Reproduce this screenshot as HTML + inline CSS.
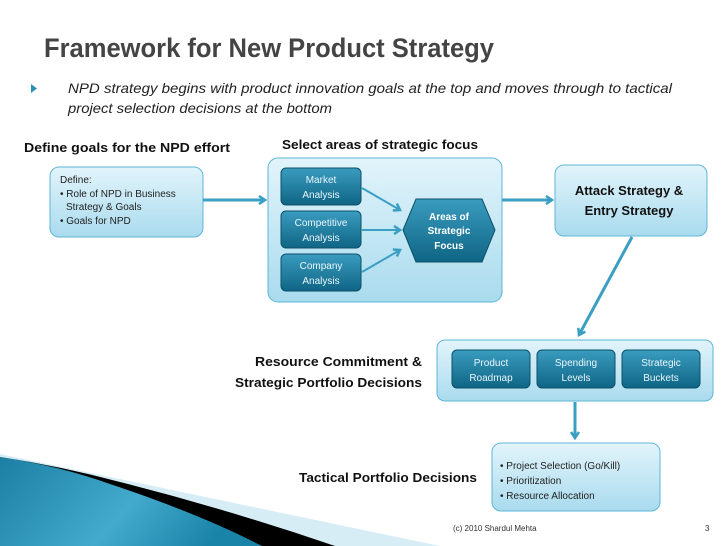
<!DOCTYPE html>
<html><head><meta charset="utf-8"><style>
html,body{margin:0;padding:0;background:#fff;}
svg{display:block;font-family:"Liberation Sans",sans-serif;}
</style></head><body>
<svg width="728" height="546" viewBox="0 0 728 546" xmlns="http://www.w3.org/2000/svg">
<defs>
<linearGradient id="lb" x1="0" y1="0" x2="0" y2="1"><stop offset="0" stop-color="#e2f4fb"/><stop offset="1" stop-color="#a9dbee"/></linearGradient>
<linearGradient id="db" x1="0" y1="0" x2="0" y2="1"><stop offset="0" stop-color="#3a9cbf"/><stop offset="1" stop-color="#0f6585"/></linearGradient>
<linearGradient id="sw" x1="0" y1="0" x2="1" y2="0.3"><stop offset="0" stop-color="#1b7fa3"/><stop offset="0.6" stop-color="#43aacd"/><stop offset="1" stop-color="#1a84a8"/></linearGradient>
<marker id="ah" markerWidth="10" markerHeight="10" refX="7" refY="5" orient="auto" markerUnits="userSpaceOnUse"><path d="M1,1 L7,5 L1,9" fill="none" stroke="#3a9fc2" stroke-width="2.5"/></marker>
</defs>

<!-- swoosh -->
<path d="M0,454 L440,546 L0,546 Z" fill="#d7edf5"/>
<path d="M0,457 Q60,466 120,482 Q230,510 335,546 L0,546 Z" fill="#000"/>
<path d="M0,457 Q60,466 110,484 Q200,514 262,546 L0,546 Z" fill="url(#sw)"/>

<text x="44" y="57" font-size="27" font-weight="bold" fill="#444" textLength="450" lengthAdjust="spacingAndGlyphs">Framework for New Product Strategy</text>
<path d="M31,84 L37,88.5 L31,93 Z" fill="#2d8fb3"/>
<text font-size="14" font-style="italic" fill="#222"><tspan x="68" y="93" textLength="604" lengthAdjust="spacingAndGlyphs">NPD strategy begins with product innovation goals at the top and moves through to tactical</tspan><tspan x="68" y="113" textLength="264" lengthAdjust="spacingAndGlyphs">project selection decisions at the bottom</tspan></text>

<g font-weight="bold" fill="#111" font-size="13">
<text x="24" y="152" textLength="206" lengthAdjust="spacingAndGlyphs">Define goals for the NPD effort</text>
<text x="282" y="149" textLength="196" lengthAdjust="spacingAndGlyphs">Select areas of strategic focus</text>
<text x="255" y="366" textLength="167" lengthAdjust="spacingAndGlyphs">Resource Commitment &amp;</text>
<text x="235" y="387" textLength="187" lengthAdjust="spacingAndGlyphs">Strategic Portfolio Decisions</text>
<text x="299" y="482" textLength="178" lengthAdjust="spacingAndGlyphs">Tactical Portfolio Decisions</text>
</g>

<!-- define box -->
<rect x="50" y="167" width="153" height="70" rx="9" fill="url(#lb)" stroke="#5eb6d6"/>
<text font-size="10" fill="#222"><tspan x="60" y="183">Define:</tspan><tspan x="60" y="197">• Role of NPD in Business</tspan><tspan x="66" y="210">Strategy &amp; Goals</tspan><tspan x="60" y="224">• Goals for NPD</tspan></text>

<!-- container -->
<rect x="268" y="158" width="234" height="144" rx="10" fill="url(#lb)" stroke="#5eb6d6"/>
<g fill="url(#db)" stroke="#0c5068" stroke-width="1">
<rect x="281" y="168" width="80" height="37" rx="5"/>
<rect x="281" y="211" width="80" height="37" rx="5"/>
<rect x="281" y="254" width="80" height="37" rx="5"/>
<path d="M416,199 L482,199 L495,230 L482,262 L416,262 L403,230 Z"/>
</g>
<g font-size="10" fill="#e8f6fb" text-anchor="middle">
<text x="321" y="183">Market</text><text x="321" y="198">Analysis</text>
<text x="321" y="226">Competitive</text><text x="321" y="241">Analysis</text>
<text x="321" y="269">Company</text><text x="321" y="284">Analysis</text>
</g>
<g font-size="10" font-weight="bold" fill="#fff" text-anchor="middle">
<text x="449" y="220">Areas of</text><text x="449" y="234">Strategic</text><text x="449" y="249">Focus</text>
</g>
<g stroke="#3a9fc2" stroke-width="2" marker-end="url(#ah)">
<line x1="362" y1="188" x2="400" y2="210"/>
<line x1="362" y1="230" x2="400" y2="230"/>
<line x1="362" y1="272" x2="400" y2="250"/>
</g>

<!-- attack -->
<rect x="555" y="165" width="152" height="71" rx="9" fill="url(#lb)" stroke="#5eb6d6"/>
<g font-size="13" font-weight="bold" fill="#111" text-anchor="middle"><text x="629" y="195">Attack Strategy &amp;</text><text x="629" y="215">Entry Strategy</text></g>

<!-- arrows -->
<g stroke="#3a9fc2" stroke-width="3" marker-end="url(#ah)">
<line x1="203" y1="200" x2="265" y2="200"/>
<line x1="502" y1="200" x2="552" y2="200"/>
<line x1="632" y1="237" x2="579" y2="335"/>
<line x1="575" y1="402" x2="575" y2="438"/>
</g>

<!-- resource -->
<rect x="437" y="340" width="276" height="61" rx="8" fill="url(#lb)" stroke="#5eb6d6"/>
<g fill="url(#db)" stroke="#0c5068">
<rect x="452" y="350" width="78" height="38" rx="5"/>
<rect x="537" y="350" width="78" height="38" rx="5"/>
<rect x="622" y="350" width="78" height="38" rx="5"/>
</g>
<g font-size="10" fill="#e8f6fb" text-anchor="middle">
<text x="491" y="366">Product</text><text x="491" y="381">Roadmap</text>
<text x="576" y="366">Spending</text><text x="576" y="381">Levels</text>
<text x="661" y="366">Strategic</text><text x="661" y="381">Buckets</text>
</g>

<!-- tactical -->
<rect x="492" y="443" width="168" height="68" rx="9" fill="url(#lb)" stroke="#5eb6d6"/>
<text font-size="10" fill="#222"><tspan x="500" y="469">• Project Selection (Go/Kill)</tspan><tspan x="500" y="484">• Prioritization</tspan><tspan x="500" y="499">• Resource Allocation</tspan></text>

<text x="453" y="531" font-size="8" fill="#333">(c) 2010 Shardul Mehta</text>
<text x="705" y="531" font-size="8" fill="#333">3</text>
</svg>
</body></html>
